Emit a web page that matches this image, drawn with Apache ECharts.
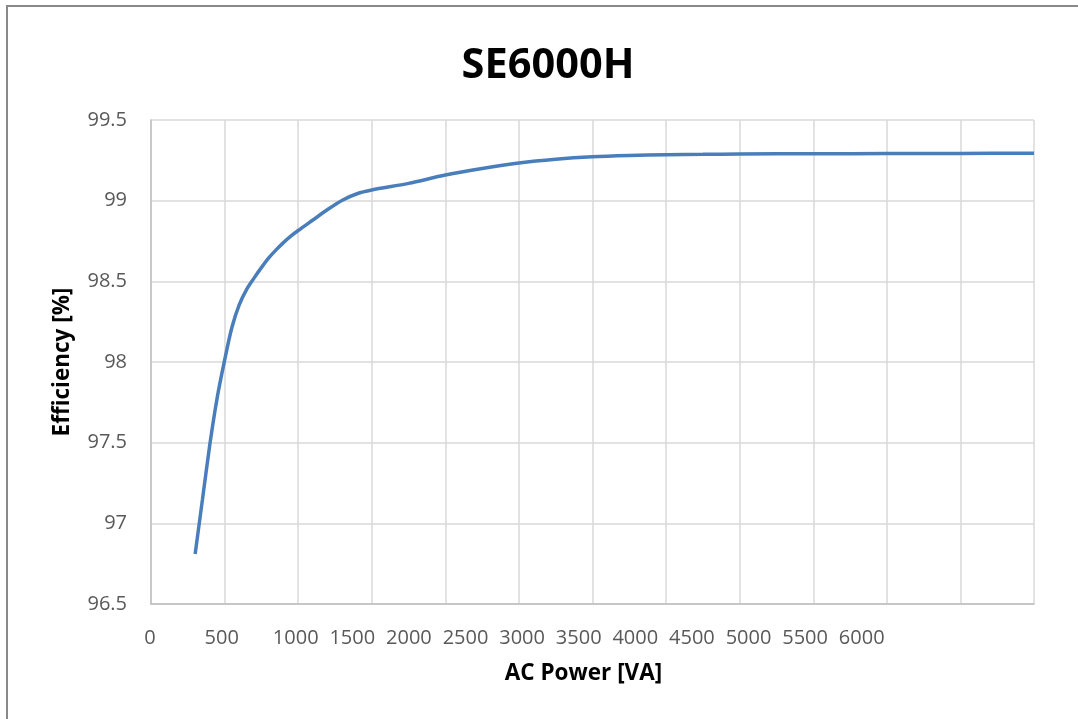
<!DOCTYPE html>
<html>
<head>
<meta charset="utf-8">
<script src="https://cdn.jsdelivr.net/npm/echarts@6/dist/echarts.min.js"></script>
<style>
  html, body { margin: 0; padding: 0; background: #ffffff; }
  #chart { width: 1078px; height: 719px; }
</style>
</head>
<body>
<div id="chart"></div>
<script>
// ---- Data ----
const chartTitle = 'SE6000H';
const xAxisName = 'AC Power [VA]';
const yAxisName = 'Efficiency [%]';

const powerVA = [300, 350, 400, 450, 500, 550, 600, 650, 700, 750, 800, 850, 900, 950, 1000,
                 1100, 1200, 1300, 1400, 1500,
                 1750, 2000, 2250, 2500, 2750, 3000, 3250, 3500, 3750, 4000,
                 4500, 5000, 5500, 6000];
const efficiency = [96.81, 97.15, 97.49, 97.78, 98.01, 98.215, 98.355, 98.45, 98.52, 98.585, 98.645, 98.695, 98.74, 98.78, 98.815,
                    98.88, 98.945, 99.003, 99.043, 99.066,
                    99.107, 99.159, 99.2, 99.234, 99.257, 99.272, 99.28, 99.285, 99.287, 99.289,
                    99.291, 99.292, 99.293, 99.294];

const xMin = 0, xMax = 6000, xStep = 500;
const yMin = 96.5, yMax = 99.5, yStep = 0.5;

// ---- Layout / style ----
const FONT = 'Open Sans';
const gridLeft = 151, gridRight = 44, gridTop = 120, gridBottom = 115;
const plotWidth = 1078 - gridLeft - gridRight;

// In the reference the x tick labels are packed together, not aligned with their gridlines.
// Shift each label left by the difference between its packed position and its tick position.
function labelShift(idx) {
  const tickPx = gridLeft + (idx * xStep - xMin) / (xMax - xMin) * plotWidth;
  let target;
  if (idx === 0) target = 150;
  else if (idx === 1) target = 221.7;
  else target = 295.7 + (idx - 2) * 56.6;
  return target - tickPx;
}
const xRich = {};
const nLabels = Math.round((xMax - xMin) / xStep) + 1;
for (let i = 0; i < nLabels; i++) {
  const s = labelShift(i);
  xRich['p' + i] = {
    fontFamily: FONT, fontSize: 20, color: '#595959',
    padding: [0, Math.max(0, -2 * s), 0, Math.max(0, 2 * s)]
  };
}

const chart = echarts.init(document.getElementById('chart'), null, { renderer: 'canvas' });
chart.setOption({
  backgroundColor: '#ffffff',
  animation: false,
  title: {
    text: chartTitle,
    left: 543,
    textAlign: 'center',
    top: 40,
    textStyle: { fontFamily: FONT, fontSize: 41.5, fontWeight: 'bold', color: '#000000' }
  },
  graphic: [{
    type: 'rect',
    shape: { x: 7, y: 6, width: 1200, height: 900 },
    style: { fill: 'none', stroke: '#898989', lineWidth: 2 },
    silent: true
  }],
  grid: { left: gridLeft, right: gridRight, top: gridTop, bottom: gridBottom, containLabel: false },
  xAxis: {
    type: 'value',
    min: xMin, max: xMax, interval: xStep,
    name: xAxisName,
    nameLocation: 'middle',
    nameGap: 58,
    nameTextStyle: { fontFamily: FONT, fontSize: 22.5, fontWeight: 'bold', color: '#000000', padding: [0, 18, 0, 0] },
    axisLine: { show: true, lineStyle: { color: '#bfbfbf', width: 1.5 } },
    axisTick: { show: false },
    axisLabel: {
      margin: 24,
      fontFamily: FONT, fontSize: 20, color: '#595959',
      formatter: function (val, idx) { return '{p' + idx + '|' + val + '}'; },
      rich: xRich
    },
    splitLine: { show: true, lineStyle: { color: '#d9d9d9', width: 1.5 } }
  },
  yAxis: {
    type: 'value',
    min: yMin, max: yMax, interval: yStep,
    name: yAxisName,
    nameLocation: 'middle',
    nameGap: 77,
    nameRotate: 90,
    nameTextStyle: { fontFamily: FONT, fontSize: 22.5, fontWeight: 'bold', color: '#000000' },
    axisLine: { show: true, lineStyle: { color: '#bfbfbf', width: 1.5 } },
    axisTick: { show: false },
    axisLabel: { margin: 24, fontFamily: FONT, fontSize: 20, color: '#595959' },
    splitLine: { show: true, lineStyle: { color: '#d9d9d9', width: 1.5 } }
  },
  series: [{
    type: 'line',
    data: powerVA.map((p, i) => [p, efficiency[i]]),
    smooth: 0.3,
    showSymbol: false,
    symbol: 'none',
    lineStyle: { color: '#4a7ebb', width: 3.5 },
    itemStyle: { color: '#4a7ebb' }
  }]
});
</script>
</body>
</html>
